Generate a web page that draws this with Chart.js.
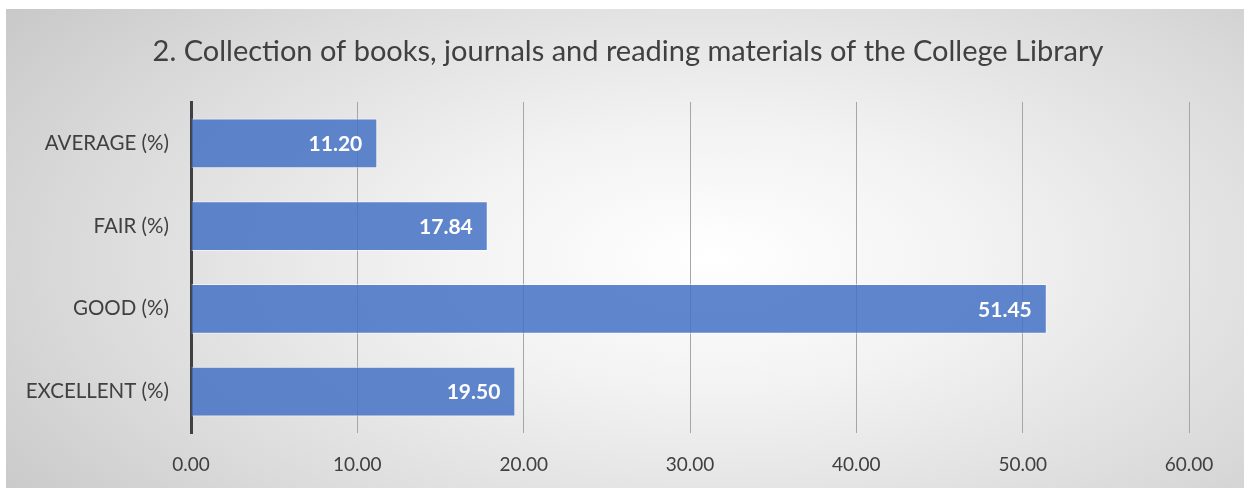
<!DOCTYPE html>
<html>
<head>
<meta charset="utf-8">
<script src="https://cdn.jsdelivr.net/npm/chart.js@4"></script>
<style>
  body { margin: 0; background: #fff; }
  #panel {
    position: absolute; left: 6px; top: 9px; width: 1238px; height: 479px;
    background: radial-gradient(ellipse 75% 95% at 57% 52%, #ffffff 0%, #f2f2f2 30%, #d9d9d9 70%, #c4c4c4 100%);
  }
</style>
</head>
<body>
<div id="panel"><canvas id="myChart" width="1238" height="479"></canvas></div>
<script>
// datos de la gráfica
const categorias = ['AVERAGE (%)', 'FAIR (%)', 'GOOD (%)', 'EXCELLENT (%)'];
const valores = [11.20, 17.84, 51.45, 19.50];
const titulo = '2. Collection of books, journals and reading materials of the College Library';
const fuente = 'Lato, "Open Sans", sans-serif';

// titulo centrado sobre todo el panel
const tituloPanel = {
  id: 'tituloPanel',
  afterDraw(chart) {
    const ctx = chart.ctx;
    ctx.save();
    ctx.fillStyle = '#404040';
    ctx.font = '29px ' + fuente;
    ctx.textAlign = 'center';
    ctx.textBaseline = 'middle';
    ctx.fillText(titulo, chart.width / 2 + 3, 43);
    ctx.restore();
  }
};

// etiquetas blancas dentro de cada barra
const etiquetasBarra = {
  id: 'etiquetasBarra',
  afterDatasetsDraw(chart) {
    const ctx = chart.ctx;
    const meta = chart.getDatasetMeta(0);
    ctx.save();
    ctx.fillStyle = '#ffffff';
    ctx.font = 'bold 21px ' + fuente;
    ctx.textAlign = 'right';
    ctx.textBaseline = 'middle';
    meta.data.forEach((bar, i) => {
      ctx.fillText(valores[i].toFixed(2), bar.x - 15, bar.y + 1);
    });
    ctx.restore();
  }
};

const data = {
  labels: categorias,
  datasets: [
    {
      label: 'Collection',
      data: valores,
      backgroundColor: 'rgba(68, 114, 196, 0.85)',
      borderColor: 'rgba(255, 255, 255, 0.55)',
      borderWidth: 1,
      barPercentage: 0.6,
      categoryPercentage: 1,
    },
  ],
};

const config = {
  type: 'bar',
  data: data,
  options: {
    indexAxis: 'y',
    responsive: false,
    animation: false,
    layout: { padding: { left: 0, right: 55, top: 93, bottom: 0 } },
    plugins: {
      legend: { display: false },
      tooltip: { enabled: false },
      title: { display: false },
    },
    scales: {
      x: {
        min: 0,
        max: 60,
        ticks: {
          stepSize: 10,
          color: '#404040',
          font: { family: fuente, size: 19 },
          padding: 20,
          callback: (v) => Number(v).toFixed(2),
        },
        grid: { color: '#a6a6a6', lineWidth: 1, drawTicks: false },
        border: { display: false },
        afterFit: (scale) => { scale.height = 55; },
      },
      y: {
        ticks: {
          color: '#404040',
          font: { family: fuente, size: 20.5 },
          padding: 22,
        },
        grid: { display: false, drawTicks: false },
        border: { display: true, color: '#404040', width: 3 },
        afterFit: (scale) => { scale.width = 185; },
      },
    },
  },
  plugins: [etiquetasBarra, tituloPanel],
};

let myChart = new Chart(document.querySelector('#myChart'), config);
</script>
</body>
</html>
